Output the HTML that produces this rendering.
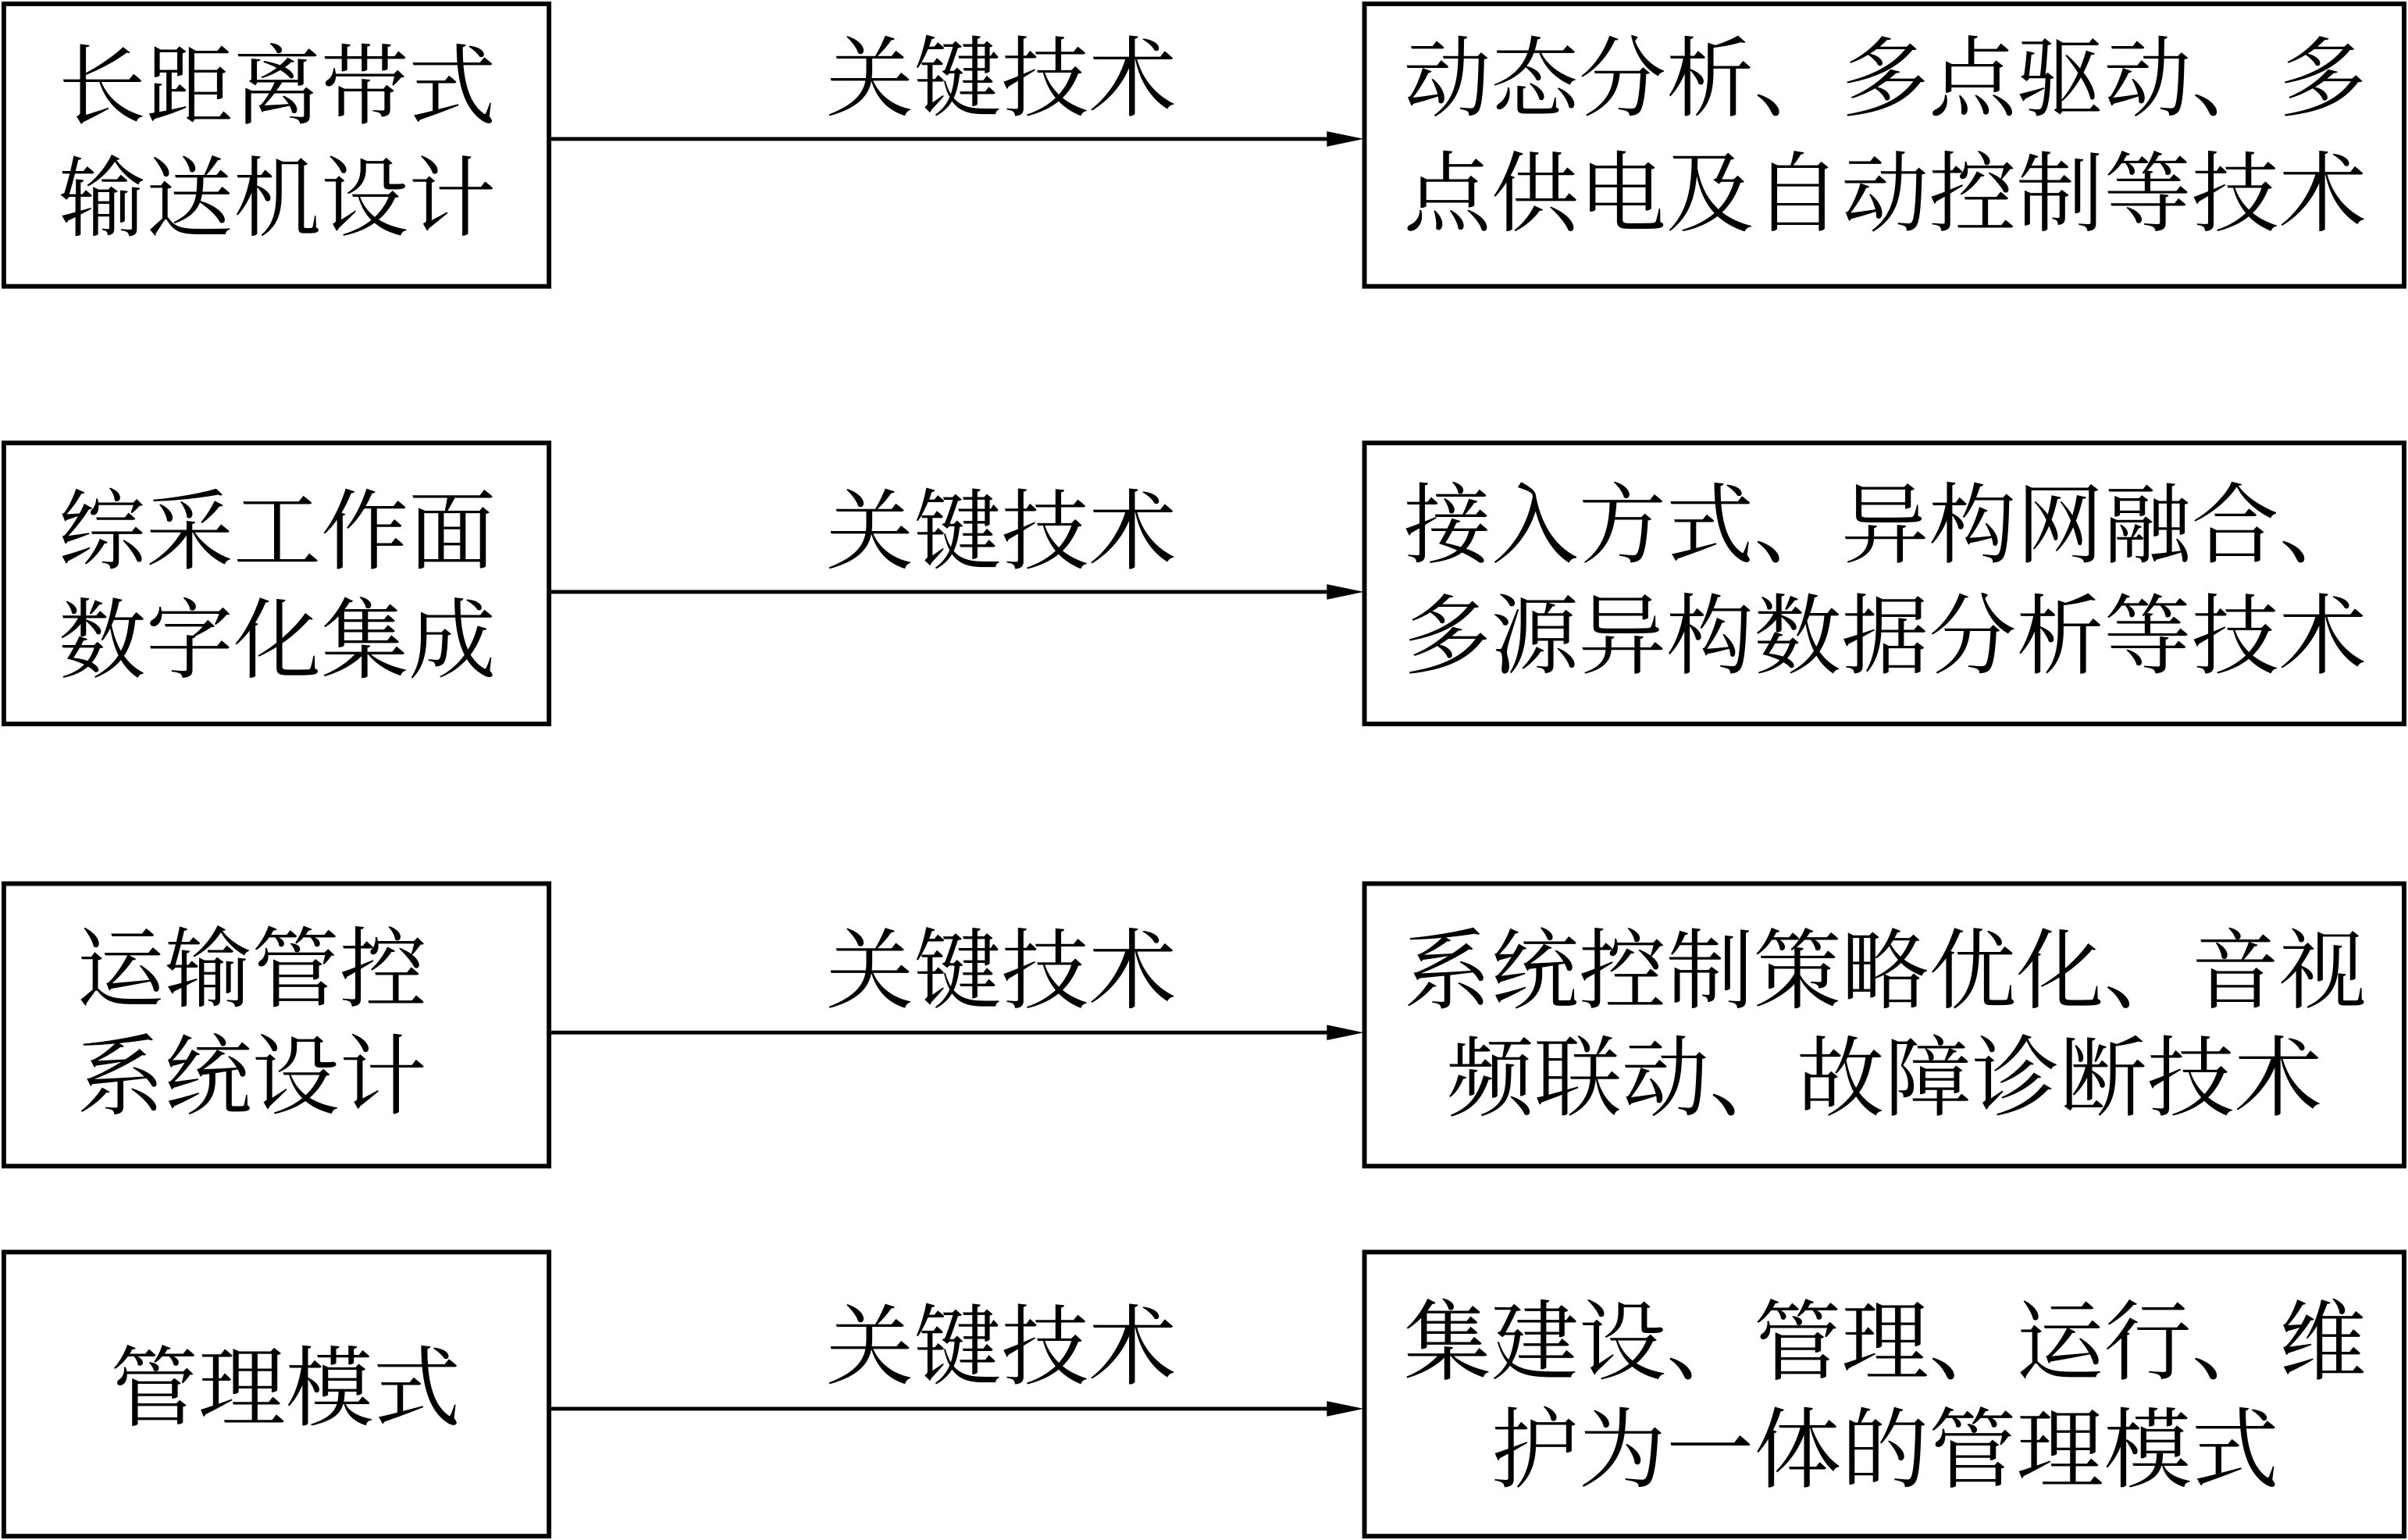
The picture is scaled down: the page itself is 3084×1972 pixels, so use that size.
<!DOCTYPE html>
<html><head><meta charset="utf-8"><style>
html,body{margin:0;padding:0;background:#fff;}
body{width:3084px;height:1972px;overflow:hidden;position:relative;}
#w{position:absolute;left:0;top:0;width:1568px;height:1003px;transform:scale(1.9668,1.9661);transform-origin:0 0;}
.b{position:absolute;border:3.6px solid #000;box-sizing:border-box;}
.t{position:absolute;font-family:"Liberation Serif","Noto Serif CJK SC",serif;font-size:57px;line-height:57px;white-space:nowrap;color:#000;}
svg{position:absolute;left:0;top:0;}
</style></head><body><div id="w">
<div class="b" style="left:1px;top:1px;width:358px;height:187px"></div>
<div class="b" style="left:887px;top:1px;width:680px;height:187px"></div>
<div class="b" style="left:1px;top:287px;width:358px;height:186px"></div>
<div class="b" style="left:887px;top:287px;width:680px;height:186px"></div>
<div class="b" style="left:1px;top:574px;width:358px;height:187px"></div>
<div class="b" style="left:887px;top:574px;width:680px;height:187px"></div>
<div class="b" style="left:1px;top:814px;width:358px;height:188px"></div>
<div class="b" style="left:887px;top:814px;width:680px;height:188px"></div>
<svg width="1568" height="1003">
<g stroke="#000" stroke-width="2.5">
<line x1="359" y1="90.5" x2="870" y2="90.5"/>
<line x1="359" y1="385.5" x2="870" y2="385.5"/>
<line x1="359" y1="672.5" x2="870" y2="672.5"/>
<line x1="359" y1="917.5" x2="870" y2="917.5"/>
</g>
<g fill="#000">
<polygon points="864,85.5 888,90.5 864,95.5"/>
<polygon points="864,380.5 888,385.5 864,390.5"/>
<polygon points="864,667.5 888,672.5 864,677.5"/>
<polygon points="864,912.5 888,917.5 864,922.5"/>
</g>
</svg>
<div class="t" style="left:38px;top:29px">长距离带式</div>
<div class="t" style="left:38px;top:102px">输送机设计</div>
<div class="t" style="left:538px;top:24px">关键技术</div>
<div class="t" style="left:914px;top:24px">动态分析、多点驱动、多</div>
<div class="t" style="left:914px;top:99px">点供电及自动控制等技术</div>

<div class="t" style="left:38px;top:319px">综采工作面</div>
<div class="t" style="left:38px;top:390px">数字化集成</div>
<div class="t" style="left:538px;top:319px">关键技术</div>
<div class="t" style="left:914px;top:315px">接入方式、异构网融合、</div>
<div class="t" style="left:914px;top:387px">多源异构数据分析等技术</div>

<div class="t" style="left:50px;top:604px">运输管控</div>
<div class="t" style="left:50px;top:674px">系统设计</div>
<div class="t" style="left:538px;top:605px">关键技术</div>
<div class="t" style="left:914px;top:605px">系统控制策略优化、音视</div>
<div class="t" style="left:942px;top:675px">频联动、故障诊断技术</div>

<div class="t" style="left:72px;top:877px">管理模式</div>
<div class="t" style="left:538px;top:850px">关键技术</div>
<div class="t" style="left:914px;top:847px">集建设、管理、运行、维</div>
<div class="t" style="left:971px;top:917px">护为一体的管理模式</div>
</div></body></html>
